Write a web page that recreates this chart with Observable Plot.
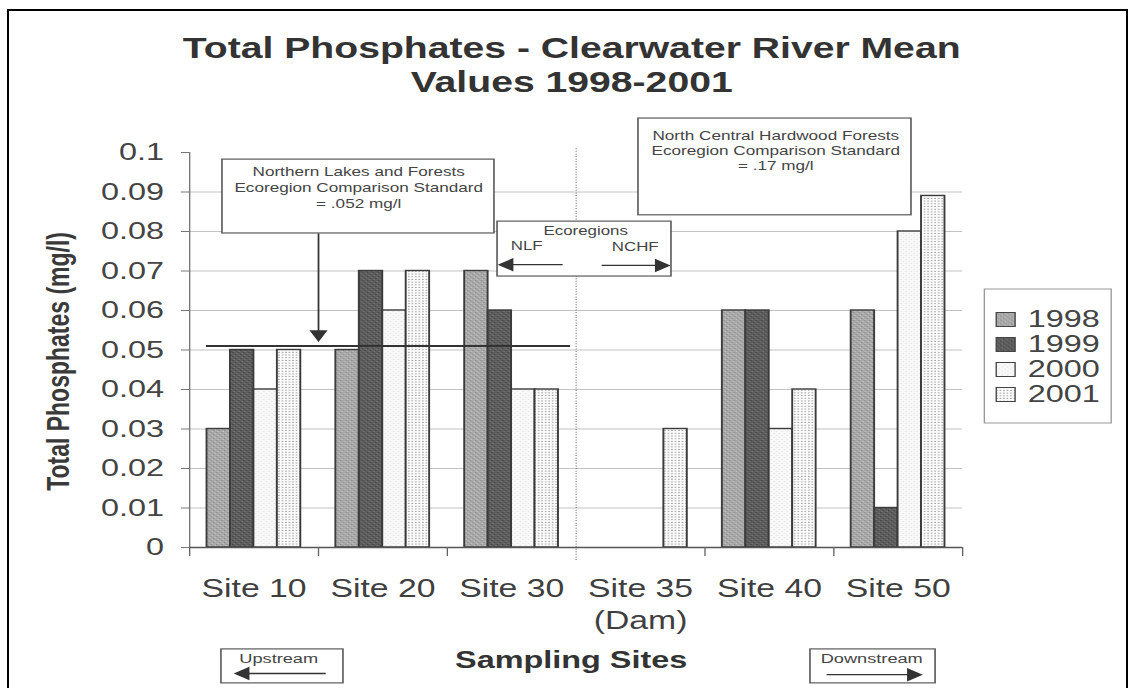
<!DOCTYPE html>
<html>
<head>
<meta charset="utf-8">
<script src="https://cdn.jsdelivr.net/npm/d3@7"></script>
<script src="https://cdn.jsdelivr.net/npm/@observablehq/plot@0.6"></script>
<style>
  html, body { margin: 0; padding: 0; background: #fff; }
  #page { position: relative; width: 1135px; height: 688px; overflow: hidden; background: #fff; }
  #chart { position: absolute; left: 0; top: 0; }
  #legend { position: absolute; left: 983px; top: 288px; }
  #border { position: absolute; left: 7px; top: 9px; width: 1121px; height: 720px;
            border: 2px solid #000; border-bottom: none; box-sizing: border-box; pointer-events: none; }
</style>
</head>
<body>
<svg width="0" height="0" style="position:absolute">
  <defs>
    <pattern id="p1998" patternUnits="userSpaceOnUse" width="4" height="4">
      <rect width="4" height="4" fill="#a8a8a8"/>
      <rect x="0" y="0" width="1" height="1" fill="#8c8c8c"/>
      <rect x="2" y="2" width="1" height="1" fill="#8c8c8c"/>
      <rect x="1" y="3" width="1" height="1" fill="#c4c4c4"/>
      <rect x="3" y="1" width="1" height="1" fill="#c4c4c4"/>
    </pattern>
    <pattern id="p1999" patternUnits="userSpaceOnUse" width="4" height="4">
      <rect width="4" height="4" fill="#5d5d5d"/>
      <rect x="0" y="0" width="1" height="1" fill="#444"/>
      <rect x="2" y="2" width="1" height="1" fill="#444"/>
      <rect x="1" y="3" width="1" height="1" fill="#777"/>
      <rect x="3" y="1" width="1" height="1" fill="#777"/>
    </pattern>
    <pattern id="p2000" patternUnits="userSpaceOnUse" width="4" height="4">
      <rect width="4" height="4" fill="#f8f8f8"/>
      <rect x="1" y="1" width="1" height="1" fill="#e4e4e4"/>
      <rect x="3" y="3" width="1" height="1" fill="#e4e4e4"/>
    </pattern>
    <pattern id="p2001" patternUnits="userSpaceOnUse" width="2.6" height="2.7">
      <rect width="2.6" height="2.7" fill="#fcfcfc"/>
      <rect x="0.8" y="0.8" width="1" height="1" fill="#8a8a8a"/>
    </pattern>
  </defs>
</svg>
<div id="page">
  <div id="chart"></div>
  <div id="legend"></div>
  <div id="border"></div>
</div>
<script>
// ---------------- data ----------------
const sites = ["Site 10", "Site 20", "Site 30", "Site 35", "Site 40", "Site 50"];
const siteLabels = ["Site 10", "Site 20", "Site 30", "Site 35\n(Dam)", "Site 40", "Site 50"];
const years = ["1998", "1999", "2000", "2001"];
const v1998 = [0.03, 0.05, 0.07, null, 0.06, 0.06];
const v1999 = [0.05, 0.07, 0.06, null, 0.06, 0.01];
const v2000 = [0.04, 0.06, 0.04, null, 0.03, 0.08];
const v2001 = [0.05, 0.07, 0.04, 0.03, 0.04, 0.089];
const yTicks = [0, 0.01, 0.02, 0.03, 0.04, 0.05, 0.06, 0.07, 0.08, 0.09, 0.1];
const yTickLabels = ["0", "0.01", "0.02", "0.03", "0.04", "0.05", "0.06", "0.07", "0.08", "0.09", "0.1"];
const standardNLF = 0.051;
const titleText = "Total Phosphates - Clearwater River Mean\nValues 1998-2001";
const yLabelText = "Total Phosphates (mg/l)";
const xLabelText = "Sampling Sites";
const nlfText = "Northern Lakes and Forests\nEcoregion Comparison Standard\n= .052 mg/l";
const nchfText = "North Central Hardwood Forests\nEcoregion Comparison Standard\n= .17 mg/l";

// ---------------- styling / layout ----------------
const W = 841, H = 688, S = 1135 / W;      // drawn narrow, then stretched horizontally like the scan
const ink = "#3a3a3a";
const fills = ["url(#p1998)", "url(#p1999)", "url(#p2000)", "url(#p2001)"];
const font = "'Liberation Sans', Arial, Helvetica, sans-serif";
const bw = 0.182, pad = (1 - 4 * bw) / 2;

const series = {"1998": v1998, "1999": v1999, "2000": v2000, "2001": v2001};
const bars = [];
years.forEach((yr, j) => series[yr].forEach((v, i) => {
  if (v != null) bars.push({site: sites[i], year: yr, value: v, x1: i + pad + j * bw, x2: i + pad + (j + 1) * bw});
}));
const yLabelOf = new Map(yTicks.map((t, i) => [t, yTickLabels[i]]));

// annotation geometry (data units: x = site band index, y = mg/l)
const boxes = [
  {x1: 0.256, x2: 2.367, y1: 0.0795, y2: 0.0982},
  {x1: 2.391, x2: 3.741, y1: 0.0686, y2: 0.0825},
  {x1: 3.485, x2: 5.604, y1: 0.0841, y2: 0.1086},
  {x1: 0.248, x2: 1.195, y1: -0.0344, y2: -0.0258},
  {x1: 4.820, x2: 5.791, y1: -0.0344, y2: -0.0258}
];
const links = [
  {x1: 1.0, y1: 0.0795, x2: 1.0, y2: 0.054},
  {x1: 2.895, y1: 0.0716, x2: 2.47, y2: 0.0716},
  {x1: 3.198, y1: 0.0714, x2: 3.65, y2: 0.0714},
  {x1: 1.056, y1: -0.0319, x2: 0.42, y2: -0.0319},
  {x1: 4.944, y1: -0.0322, x2: 5.61, y2: -0.0322}
];
const heads = [
  {x: 1.0, y: 0.054, rot: 180},
  {x: 2.472, y: 0.0716, rot: -90},
  {x: 3.652, y: 0.0714, rot: 90},
  {x: 0.423, y: -0.0319, rot: -90},
  {x: 5.609, y: -0.0322, rot: 90}
];

const chart = Plot.plot({
  width: W, height: H,
  marginLeft: 189 / S, marginRight: W - 962 / S, marginTop: 152, marginBottom: H - 547,
  x: {type: "linear", domain: [0, 6]},
  y: {type: "linear", domain: [0, 0.1]},
  color: {type: "ordinal", domain: years, range: fills},
  style: {fontFamily: font, fontSize: "16px", color: ink, background: "transparent", overflow: "visible"},
  marks: [
    Plot.ruleY(yTicks.filter(d => d > 0 && d < 0.1), {stroke: "#c2c2c2", strokeWidth: 1}),
    Plot.ruleX([3], {y1: -0.0033, y2: 0.1013, stroke: "#8a8a8a", strokeDasharray: "1,1.6"}),
    Plot.rect(bars, {x1: "x1", x2: "x2", y1: 0, y2: "value", fill: "year", stroke: "#3b3b3b", strokeWidth: 1.4}),
    Plot.ruleX([0], {stroke: "#777", strokeWidth: 1}),
    Plot.ruleY([0], {stroke: "#555", strokeWidth: 1.3}),
    Plot.axisY(yTicks, {tickSize: 6, tickPadding: 13, tickFormat: d => yLabelOf.get(d),
      fontSize: 24, fill: "#444", stroke: "#777", label: null}),
    Plot.axisX([0, 1, 2, 4, 5, 6], {tickSize: 9, tickFormat: () => "", stroke: "#666", label: null}),
    Plot.axisX(sites.map((s, i) => i + 0.5), {tickSize: 0, tickPadding: 26,
      tickFormat: d => siteLabels[Math.floor(d)], fontSize: 25, lineHeight: 1.3, fill: "#3f3f3f", label: null}),
    Plot.ruleY([standardNLF], {x1: 0.132, x2: 2.957, stroke: "#333", strokeWidth: 2}),
    Plot.rect(boxes, {x1: "x1", x2: "x2", y1: "y1", y2: "y2", fill: "white", stroke: "#5a5a5a", strokeWidth: 1.2}),
    Plot.link(links, {x1: "x1", y1: "y1", x2: "x2", y2: "y2", stroke: "#333", strokeWidth: 1.3}),
    Plot.dot(heads, {x: "x", y: "y", rotate: "rot", symbol: "triangle", r: 5, fill: "#333", stroke: "none"}),
    Plot.text([nlfText], {x: 1.312, y: 0.097, text: d => d, lineAnchor: "top", lineHeight: 1.26, fontSize: 12.7, fill: "#444"}),
    Plot.text([nchfText], {x: 4.549, y: 0.1058, text: d => d, lineAnchor: "top", lineHeight: 1.18, fontSize: 12.7, fill: "#444"}),
    Plot.text(["Ecoregions"], {x: 3.074, y: 0.0813, text: d => d, lineAnchor: "top", fontSize: 12.5, fill: "#444"}),
    Plot.text(["NLF"], {x: 2.492, y: 0.0775, text: d => d, textAnchor: "start", lineAnchor: "top", fontSize: 12.5, fill: "#444"}),
    Plot.text(["NCHF"], {x: 3.640, y: 0.0772, text: d => d, textAnchor: "end", lineAnchor: "top", fontSize: 12.5, fill: "#444"}),
    Plot.text(["Upstream"], {x: 0.691, y: -0.0268, text: d => d, lineAnchor: "top", fontSize: 13.5, fill: "#444"}),
    Plot.text(["Downstream"], {x: 5.294, y: -0.0268, text: d => d, lineAnchor: "top", fontSize: 13.5, fill: "#444"}),
    Plot.text([titleText], {x: 2.965, y: 0.1301, text: d => d, lineAnchor: "top", lineHeight: 1.172,
      fontSize: 29, fontWeight: "bold", fill: "#333"}),
    Plot.text([yLabelText], {x: -1.017, y: 0.0471, text: d => d, rotate: -90, fontSize: 23, fontWeight: "bold", fill: "#3a3a3a"}),
    Plot.text([xLabelText], {x: 2.961, y: -0.0263, text: d => d, lineAnchor: "top", fontSize: 24, fontWeight: "bold", fill: "#333"})
  ]
});

function stretch(svg, w, h) {
  svg.setAttribute("viewBox", `0 0 ${w} ${h}`);
  svg.setAttribute("preserveAspectRatio", "none");
  svg.setAttribute("width", w * S);
  svg.setAttribute("height", h);
  svg.style.width = (w * S) + "px";
  svg.style.height = h + "px";
  svg.style.maxWidth = "none";
  svg.style.overflow = "visible";
  svg.style.background = "transparent";
}
stretch(chart, W, H);
document.getElementById("chart").appendChild(chart);

// legend
const LW = 95, LH = 135;
const legend = Plot.plot({
  width: LW, height: LH, margin: 0,
  y: {type: "point", domain: years, range: [18, 119], axis: null},
  color: {type: "ordinal", domain: years, range: fills},
  style: {fontFamily: font, fontSize: "24px", color: ink, background: "white", overflow: "visible"},
  marks: [
    Plot.frame({stroke: "#999", strokeWidth: 1, inset: 0.5}),
    Plot.dot(years, {y: d => d, frameAnchor: "left", dx: 16.3, symbol: "square", r: 7.9,
      fill: d => d, stroke: "#444", strokeWidth: 1}),
    Plot.text(years, {y: d => d, frameAnchor: "left", dx: 32.6, text: d => d, textAnchor: "start",
      fontSize: 24, fill: "#444"})
  ]
});
stretch(legend, LW, LH);
legend.style.background = "white";
document.getElementById("legend").appendChild(legend);
</script>
</body>
</html>
